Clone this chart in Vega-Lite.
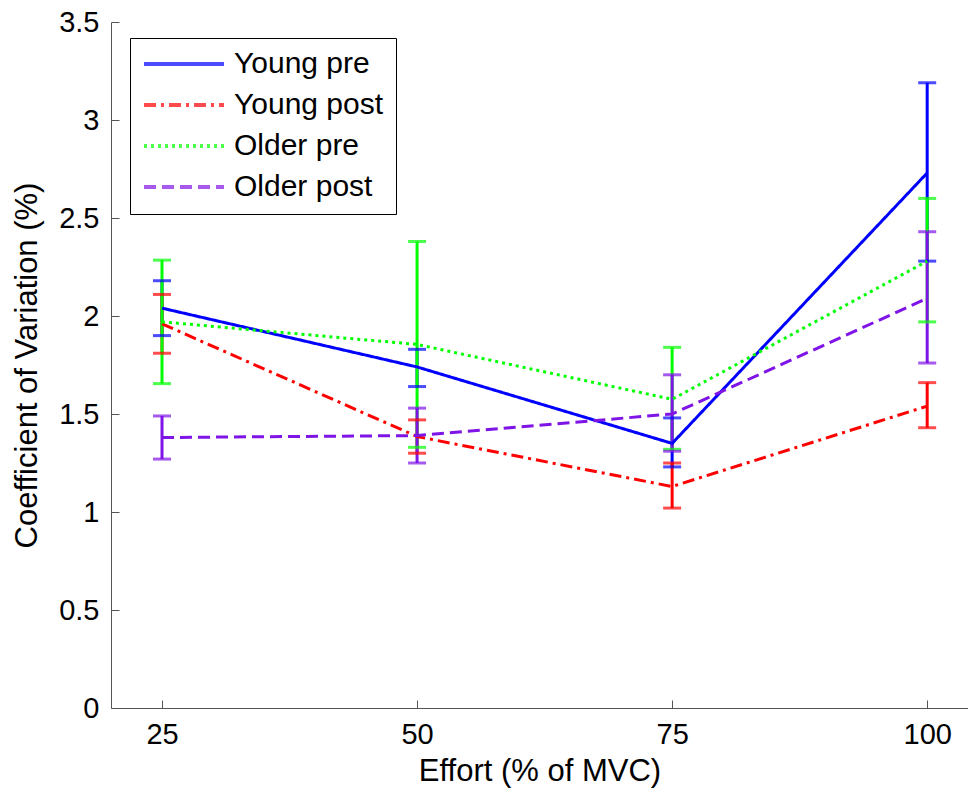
{
  "$schema": "https://vega.github.io/schema/vega-lite/v6.json",
  "width": 857,
  "height": 686,
  "autosize": {"type": "none"},
  "padding": {"left": 111, "top": 22, "right": 0, "bottom": 81},
  "background": "white",
  "config": {
    "view": {"stroke": null},
    "font": "Liberation Sans",
    "axis": {
      "domainColor": "#555",
      "tickColor": "#555",
      "grid": false,
      "tickSize": -8,
      "labelFont": "Liberation Sans",
      "labelFontSize": 29,
      "labelColor": "black",
      "titleFont": "Liberation Sans",
      "titleFontSize": 31,
      "titleFontWeight": "normal",
      "titleColor": "black"
    },
    "axisX": {"labelPadding": 20, "titlePadding": 7},
    "axisY": {"labelPadding": 20, "titlePadding": 15},
    "legend": {
      "orient": "none",
      "legendX": 19,
      "legendY": 16,
      "strokeColor": "black",
      "fillColor": "white",
      "padding": 12,
      "clipHeight": 28,
      "rowPadding": 11,
      "symbolType": "stroke",
      "symbolSize": 6400,
      "symbolStrokeWidth": 4,
      "labelFont": "Liberation Sans",
      "labelFontSize": 30,
      "labelColor": "black",
      "labelOffset": 8
    }
  },
  "data": {
    "values": [
      {"series": "Young pre", "effort": 25, "cv": 2.04, "lo": 1.90, "hi": 2.18},
      {"series": "Young pre", "effort": 50, "cv": 1.74, "lo": 1.64, "hi": 1.83},
      {"series": "Young pre", "effort": 75, "cv": 1.35, "lo": 1.23, "hi": 1.48},
      {"series": "Young pre", "effort": 100, "cv": 2.73, "lo": 2.28, "hi": 3.19},
      {"series": "Young post", "effort": 25, "cv": 1.96, "lo": 1.81, "hi": 2.11},
      {"series": "Young post", "effort": 50, "cv": 1.385, "lo": 1.30, "hi": 1.47},
      {"series": "Young post", "effort": 75, "cv": 1.13, "lo": 1.02, "hi": 1.25},
      {"series": "Young post", "effort": 100, "cv": 1.54, "lo": 1.43, "hi": 1.66},
      {"series": "Older pre", "effort": 25, "cv": 1.97, "lo": 1.655, "hi": 2.285},
      {"series": "Older pre", "effort": 50, "cv": 1.855, "lo": 1.33, "hi": 2.38},
      {"series": "Older pre", "effort": 75, "cv": 1.575, "lo": 1.32, "hi": 1.84},
      {"series": "Older pre", "effort": 100, "cv": 2.28, "lo": 1.97, "hi": 2.60},
      {"series": "Older post", "effort": 25, "cv": 1.38, "lo": 1.27, "hi": 1.49},
      {"series": "Older post", "effort": 50, "cv": 1.39, "lo": 1.25, "hi": 1.53},
      {"series": "Older post", "effort": 75, "cv": 1.50, "lo": 1.31, "hi": 1.70},
      {"series": "Older post", "effort": 100, "cv": 2.09, "lo": 1.76, "hi": 2.43}
    ]
  },
  "encoding": {
    "x": {
      "field": "effort",
      "type": "quantitative",
      "scale": {"domain": [20, 104], "nice": false, "zero": false},
      "axis": {"values": [25, 50, 75, 100], "title": "Effort (% of MVC)"}
    },
    "color": {
      "field": "series",
      "type": "nominal",
      "sort": ["Young pre", "Young post", "Older pre", "Older post"],
      "scale": {
        "domain": ["Young pre", "Young post", "Older pre", "Older post"],
        "range": ["#0000ff", "#ff0000", "#00ff00", "#7f14e6"]
      },
      "legend": {"title": null}
    }
  },
  "layer": [
    {
      "mark": {"type": "rule", "strokeWidth": 3},
      "encoding": {
        "y": {
          "field": "lo",
          "type": "quantitative",
          "scale": {"domain": [0, 3.5], "nice": false},
          "axis": {"values": [0, 0.5, 1, 1.5, 2, 2.5, 3, 3.5], "format": "~g", "title": "Coefficient of Variation (%)"}
        },
        "y2": {"field": "hi"}
      }
    },
    {
      "mark": {"type": "tick", "orient": "horizontal", "size": 18, "thickness": 3},
      "encoding": {
        "y": {"field": "lo", "type": "quantitative", "axis": {"values": [0, 0.5, 1, 1.5, 2, 2.5, 3, 3.5], "format": "~g", "title": "Coefficient of Variation (%)"}}
      }
    },
    {
      "mark": {"type": "tick", "orient": "horizontal", "size": 18, "thickness": 3},
      "encoding": {
        "y": {"field": "hi", "type": "quantitative", "axis": {"values": [0, 0.5, 1, 1.5, 2, 2.5, 3, 3.5], "format": "~g", "title": "Coefficient of Variation (%)"}}
      }
    },
    {
      "mark": {"type": "line", "strokeWidth": 3},
      "encoding": {
        "y": {"field": "cv", "type": "quantitative", "axis": {"values": [0, 0.5, 1, 1.5, 2, 2.5, 3, 3.5], "format": "~g", "title": "Coefficient of Variation (%)"}},
        "strokeDash": {
          "field": "series",
          "type": "nominal",
          "sort": ["Young pre", "Young post", "Older pre", "Older post"],
          "scale": {
            "domain": ["Young pre", "Young post", "Older pre", "Older post"],
            "range": [[1, 0], [12, 5, 3, 5], [3, 4], [12, 6]]
          },
          "legend": {"title": null}
        }
      }
    }
  ]
}
